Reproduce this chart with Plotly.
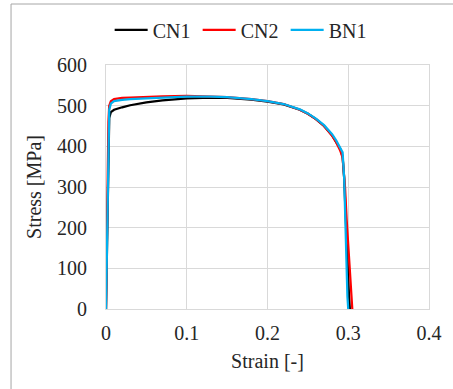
import plotly.graph_objects as go

cn1_strain = [0, 0.001, 0.002, 0.003, 0.004, 0.006, 0.01, 0.02, 0.03, 0.05, 0.07, 0.1, 0.13, 0.15, 0.18, 0.2, 0.22, 0.24, 0.25, 0.26, 0.27, 0.28, 0.285, 0.29, 0.293, 0.295, 0.297, 0.299, 0.301, 0.302]
cn1_stress = [0, 150, 300, 420, 470, 484, 490, 496, 501, 508, 513, 518, 520, 519, 515, 510, 503, 490, 480, 467, 450, 427, 412, 394, 375, 320, 220, 110, 30, 0]

cn2_strain = [0, 0.001, 0.002, 0.003, 0.004, 0.006, 0.01, 0.02, 0.03, 0.05, 0.07, 0.1, 0.13, 0.15, 0.18, 0.2, 0.22, 0.24, 0.25, 0.26, 0.27, 0.28, 0.285, 0.29, 0.293, 0.296, 0.298, 0.300, 0.302, 0.304, 0.305]
cn2_stress = [0, 170, 340, 460, 500, 511, 516, 519, 520, 522, 523, 524, 523, 521, 516, 511, 504, 490, 480, 467, 450, 426, 410, 390, 372, 300, 220, 150, 80, 20, 0]

bn1_strain = [0, 0.001, 0.002, 0.003, 0.004, 0.006, 0.01, 0.02, 0.03, 0.05, 0.07, 0.1, 0.13, 0.15, 0.18, 0.2, 0.22, 0.24, 0.25, 0.26, 0.27, 0.28, 0.285, 0.29, 0.293, 0.295, 0.296, 0.297, 0.298, 0.299, 0.300]
bn1_stress = [0, 160, 320, 440, 490, 505, 511, 514, 516, 518, 520, 522, 522, 521, 516, 511, 504, 491, 481, 468, 452, 430, 415, 398, 385, 320, 240, 160, 90, 30, 0]

series = [
    ("CN1", cn1_strain, cn1_stress, "#000000"),
    ("CN2", cn2_strain, cn2_stress, "#ff0000"),
    ("BN1", bn1_strain, bn1_stress, "#00b0f0"),
]

x_ticks = [0, 0.1, 0.2, 0.3, 0.4]
x_labels = ["0", "0.1", "0.2", "0.3", "0.4"]
y_ticks = [0, 100, 200, 300, 400, 500, 600]

fig = go.Figure()
for name, xs, ys, color in series:
    fig.add_trace(go.Scatter(x=xs, y=ys, mode="lines", name=name,
                             line=dict(color=color, width=2.25)))

font = dict(family="Liberation Serif", size=20, color="#262626")

fig.update_layout(
    width=453, height=389,
    margin=dict(l=106, r=24, t=65, b=80, autoexpand=False),
    paper_bgcolor="white", plot_bgcolor="white",
    font=font,
    showlegend=True,
    legend=dict(orientation="h", x=0.42, xanchor="center",
                yref="container", y=0.923, yanchor="middle",
                font=font, entrywidth=40, entrywidthmode="pixels",
                itemwidth=33, tracegroupgap=0,
                bgcolor="rgba(0,0,0,0)"),
    xaxis=dict(range=[0, 0.4], tickvals=x_ticks, ticktext=x_labels,
               showgrid=True, gridcolor="#d9d9d9", gridwidth=1,
               showline=True, linecolor="#d9d9d9", linewidth=1, mirror=True,
               zeroline=False, ticks="", ticklen=0, automargin=False,
               ticklabelstandoff=6,
               title=dict(text="Strain [-]", font=font, standoff=10),
               tickfont=font),
    yaxis=dict(range=[0, 600], tickvals=y_ticks,
               showgrid=True, gridcolor="#d9d9d9", gridwidth=1,
               showline=True, linecolor="#d9d9d9", linewidth=1, mirror=True,
               zeroline=False, ticks="", automargin=False,
               ticklabelstandoff=14,
               title=dict(text="Stress [MPa]", font=font, standoff=10),
               tickfont=font),
    shapes=[dict(type="rect", xref="paper", yref="paper",
                 x0=-0.294, x1=1.3, y0=-0.5, y1=(309 - 4) / 244,
                 line=dict(color="#a6a6a6", width=1), fillcolor="rgba(0,0,0,0)",
                 layer="below")],
)

fig.write_html("out.html", config={"displayModeBar": False},
               post_script="document.body.style.margin='0';")
